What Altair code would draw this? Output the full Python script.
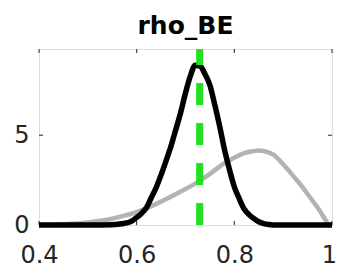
import altair as alt
import pandas as pd

# Posterior (black) density
post_x = [0.40, 0.50, 0.55, 0.57, 0.59, 0.60, 0.61, 0.62, 0.63, 0.64, 0.65, 0.66, 0.67, 0.68,
          0.69, 0.70, 0.71, 0.72, 0.73, 0.74, 0.75, 0.76, 0.77, 0.78, 0.79, 0.80, 0.81, 0.82,
          0.83, 0.84, 0.85, 0.86, 0.87, 0.89, 1.00]
post_y = [0.0, 0.0, 0.02, 0.07, 0.22, 0.42, 0.65, 0.97, 1.53, 2.09, 2.79, 3.56, 4.37, 5.30,
          6.25, 7.35, 8.30, 8.90, 8.85, 8.40, 7.78, 6.69, 5.50, 4.18, 3.09, 2.12, 1.47, 0.90,
          0.58, 0.36, 0.18, 0.08, 0.03, 0.0, 0.0]

# Prior (grey) density
prior_x = [0.40, 0.45, 0.50, 0.55, 0.58, 0.60, 0.65, 0.70, 0.72, 0.75, 0.78, 0.80, 0.82,
           0.84, 0.85, 0.86, 0.88, 0.90, 0.92, 0.94, 0.96, 0.975, 0.985, 0.993]
prior_y = [0.0, 0.04, 0.14, 0.35, 0.56, 0.72, 1.30, 2.00, 2.30, 2.85, 3.45, 3.75, 4.00,
           4.12, 4.15, 4.12, 3.92, 3.38, 2.75, 2.10, 1.35, 0.80, 0.35, 0.0]

# Mode (green dashed)
mode_x = [0.729]

x_ticks = [0.4, 0.6, 0.8, 1.0]
y_ticks = [0, 5]
x_domain = [0.4, 1.0]
y_domain = [0, 9.8]

W, H = 293, 176
FRAME = "#262626"

post = pd.DataFrame({"x": post_x, "y": post_y})
prior = pd.DataFrame({"x": prior_x, "y": prior_y})
mode = pd.DataFrame({"x": mode_x, "y0": [y_domain[0]], "y1": [y_domain[1]]})
xt = pd.DataFrame({"x": x_ticks})
yt = pd.DataFrame({"y": y_ticks})

xscale = alt.Scale(domain=x_domain, nice=False, zero=False)
yscale = alt.Scale(domain=y_domain, nice=False)

xaxis = alt.Axis(values=x_ticks, format="~g", ticks=False, domain=False, grid=False,
                 labelFont="DejaVu Sans", labelFontSize=24, labelColor=FRAME,
                 labelPadding=18, labelFlush=False, labelOverlap=False, title="",
                 labelOffset={"condition": {"test": "datum.value >= 1", "value": -3},
                              "value": 0})
yaxis = alt.Axis(values=y_ticks, format="~g", ticks=False, domain=False, grid=False,
                 labelFont="DejaVu Sans", labelFontSize=24, labelColor=FRAME,
                 labelPadding=10, labelOverlap=False, title="")

gray = alt.Chart(prior).mark_line(color="#b3b3b3", strokeWidth=4.5, interpolate="monotone",
                                  strokeJoin="round").encode(
    x=alt.X("x:Q", scale=xscale, axis=xaxis),
    y=alt.Y("y:Q", scale=yscale, axis=yaxis),
)

black = alt.Chart(post).mark_line(color="black", strokeWidth=5.5, interpolate="monotone",
                                  strokeJoin="round").encode(
    x=alt.X("x:Q", scale=xscale),
    y=alt.Y("y:Q", scale=yscale),
)

green = alt.Chart(mode).mark_rule(color="#22e022", strokeWidth=7, strokeDash=[22, 18]).encode(
    x=alt.X("x:Q", scale=xscale),
    y=alt.Y("y0:Q", scale=yscale),
    y2="y1:Q",
)

tick_b = alt.Chart(xt).mark_rule(color=FRAME, strokeWidth=1).encode(
    x=alt.X("x:Q", scale=xscale), y=alt.value(H), y2=alt.value(H - 4))
tick_t = alt.Chart(xt).mark_rule(color=FRAME, strokeWidth=1).encode(
    x=alt.X("x:Q", scale=xscale), y=alt.value(0), y2=alt.value(4))
tick_l = alt.Chart(yt).mark_rule(color=FRAME, strokeWidth=1).encode(
    y=alt.Y("y:Q", scale=yscale), x=alt.value(0), x2=alt.value(4))
tick_r = alt.Chart(yt).mark_rule(color=FRAME, strokeWidth=1).encode(
    y=alt.Y("y:Q", scale=yscale), x=alt.value(W), x2=alt.value(W - 4))

chart = alt.layer(tick_b, tick_t, tick_l, tick_r, gray, black, green).properties(
    width=W, height=H,
    title=alt.TitleParams("rho_BE", font="DejaVu Sans", fontSize=25, fontWeight="bold",
                          color="black", anchor="middle", baseline="alphabetic", offset=14,
                          dy=27),
    padding={"left": 31, "top": 41, "right": 5, "bottom": 44},
    autosize=alt.AutoSizeParams(type="none"),
).configure_view(stroke=FRAME, strokeWidth=1).configure(background="white")

chart.save("out.html", embed_options={"renderer": "svg", "actions": False})
